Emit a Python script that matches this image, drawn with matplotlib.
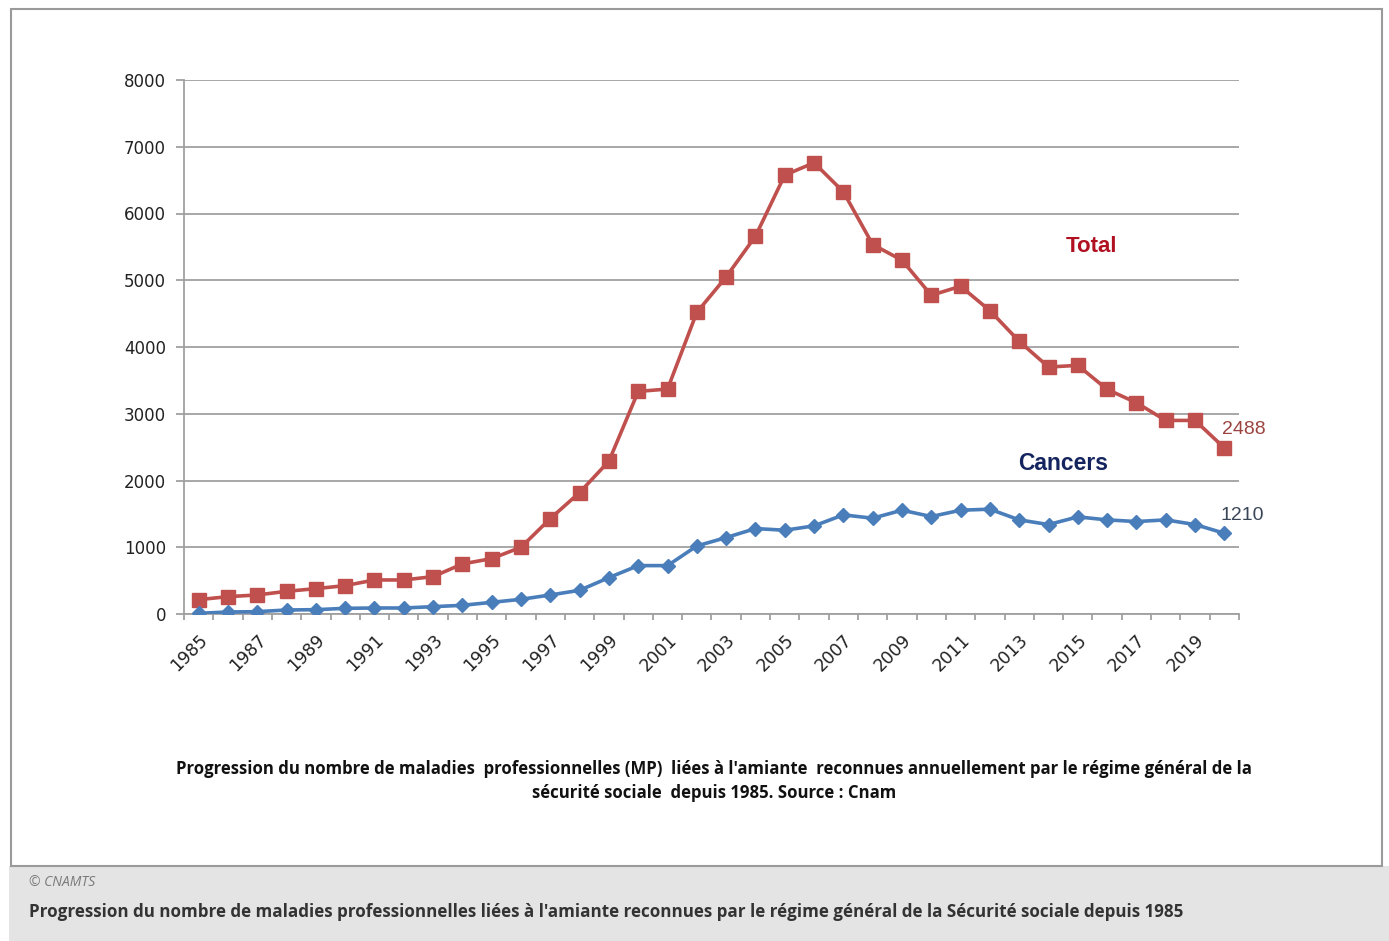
import numpy as np
import matplotlib
matplotlib.use("Agg")
import matplotlib.pyplot as plt
from matplotlib.patches import Rectangle

# years 1985 -> 2020
years = list(range(1985, 2021))

total = [215, 260, 285, 340, 380, 425, 510, 510, 560, 750, 830, 1000,
         1430, 1820, 2290, 3335, 3370, 4520, 5050, 5660, 6575, 6760, 6325, 5535,
         5300, 4775, 4910, 4545, 4085, 3700, 3725, 3365, 3165, 2900, 2900, 2488]

cancers = [10, 30, 35, 60, 65, 85, 90, 90, 110, 130, 175, 220,
           285, 355, 545, 725, 725, 1020, 1145, 1280, 1255, 1320, 1485, 1435,
           1555, 1460, 1555, 1570, 1410, 1340, 1455, 1410, 1385, 1410, 1340, 1210]

y_ticks = [0, 1000, 2000, 3000, 4000, 5000, 6000, 7000, 8000]
x_labels = [str(y) for y in range(1985, 2020, 2)]

W, H = 1389, 941
fig = plt.figure(figsize=(W / 100, H / 100), dpi=100)
fig.patch.set_facecolor("white")

# grey caption band + white framed box
fig.patches.append(Rectangle((9 / W, 0), 1 - 9 / W, (H - 866) / H, transform=fig.transFigure,
                             facecolor="#e4e4e4", edgecolor="none", zorder=0))
fig.patches.append(Rectangle((11 / W, (H - 866) / H), (1382 - 11) / W, (866 - 9) / H,
                             transform=fig.transFigure, facecolor="white",
                             edgecolor="#9a9a9a", linewidth=1.5, zorder=1))

ax = fig.add_axes([184 / W, (H - 614) / H, (1239 - 184) / W, (614 - 80) / H])
ax.set_facecolor("none")
ax.set_zorder(2)

ax.plot(years, total, color="#C0504D", lw=2.6, marker="s", ms=10.5, zorder=3)
ax.plot(years, cancers, color="#4A7EBB", lw=2.6, marker="D", ms=7.5, zorder=4)

ax.set_xlim(1984.5, 2020.5)
ax.set_ylim(0, 8000)
ax.set_yticks(y_ticks)
ax.set_yticklabels([str(v) for v in y_ticks], fontsize=12, color="#222222")
ax.yaxis.grid(True, color="#a0a0a0", lw=1.3)
ax.set_axisbelow(True)
ax.tick_params(axis="y", length=6, color="#a0a0a0", width=1.3, pad=7)

ax.set_xticks(range(1985, 2020, 2))
ax.set_xticklabels(x_labels, rotation=45, ha="right", rotation_mode="anchor",
                   fontsize=12.5, color="#222222")
ax.tick_params(axis="x", length=0, pad=12)
ax.set_xticks(np.arange(1984.5, 2021, 1), minor=True)
ax.tick_params(axis="x", which="minor", length=4.5, color="#a0a0a0", width=1.3)

for s in ["top", "right"]:
    ax.spines[s].set_visible(False)
for s in ["left", "bottom"]:
    ax.spines[s].set_color("#a0a0a0")
    ax.spines[s].set_linewidth(1.3)

ax.text(2015.45, 5500, "Total", color="#B01020", fontsize=16, fontweight="bold",
        family="Liberation Sans", ha="center", va="center")
ax.text(2014.5, 2260, "Cancers", color="#14245e", fontsize=16.5, fontweight="bold",
        family="Liberation Sans", ha="center", va="center")
ax.annotate(str(total[-1]), (years[-1], total[-1]), xytext=(-1.5, 13), textcoords="offset points",
            color="#9c4440", fontsize=14, family="Liberation Sans", ha="left", va="center")
ax.annotate(str(cancers[-1]), (years[-1], cancers[-1]), xytext=(-3, 13), textcoords="offset points",
            color="#3a4658", fontsize=14, family="Liberation Sans", ha="left", va="center")

fig.text(714 / W, 1 - 769 / H,
         "Progression du nombre de maladies  professionnelles (MP)  liées à l'amiante  reconnues annuellement par le régime général de la",
         ha="center", va="center", fontsize=12.1, fontweight="bold", family="Open Sans", color="#111111")
fig.text(714 / W, 1 - 793 / H, "sécurité sociale  depuis 1985. Source : Cnam",
         ha="center", va="center", fontsize=12.1, fontweight="bold", family="Open Sans", color="#111111")

fig.text(29 / W, 1 - 882 / H, "© CNAMTS", ha="left", va="center", fontsize=10,
         style="italic", family="Open Sans", color="#7a7a7a")
fig.text(29 / W, 1 - 912 / H,
         "Progression du nombre de maladies professionnelles liées à l'amiante reconnues par le régime général de la Sécurité sociale depuis 1985",
         ha="left", va="center", fontsize=12.25, fontweight="bold", family="Open Sans", color="#333333")

fig.savefig("out.png", dpi=100)
